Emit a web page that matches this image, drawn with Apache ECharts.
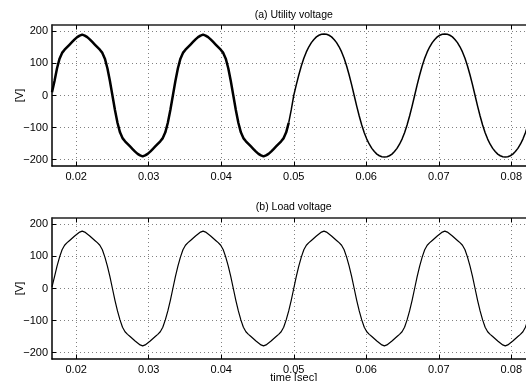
<!DOCTYPE html>
<html><head><meta charset="utf-8">
<script src="https://cdn.jsdelivr.net/npm/echarts@6/dist/echarts.min.js"></script>
<style>html,body{margin:0;padding:0;background:#fff}#c{width:526px;height:381px}</style>
</head><body><div id="c"></div>
<script>
// time [sec], sampled every 7.5 degrees of the 60 Hz period
const time = [
0.016667,0.017014,0.017361,0.017708,0.018056,0.018403,0.018750,0.019097,0.019444,0.019792,0.020139,0.020486,
0.020833,0.021181,0.021528,0.021875,0.022222,0.022569,0.022917,0.023264,0.023611,0.023958,0.024306,0.024653,
0.025000,0.025347,0.025694,0.026042,0.026389,0.026736,0.027083,0.027431,0.027778,0.028125,0.028472,0.028819,
0.029167,0.029514,0.029861,0.030208,0.030556,0.030903,0.031250,0.031597,0.031944,0.032292,0.032639,0.032986,
0.033333,0.033681,0.034028,0.034375,0.034722,0.035069,0.035417,0.035764,0.036111,0.036458,0.036806,0.037153,
0.037500,0.037847,0.038194,0.038542,0.038889,0.039236,0.039583,0.039931,0.040278,0.040625,0.040972,0.041319,
0.041667,0.042014,0.042361,0.042708,0.043056,0.043403,0.043750,0.044097,0.044444,0.044792,0.045139,0.045486,
0.045833,0.046181,0.046528,0.046875,0.047222,0.047569,0.047917,0.048264,0.048611,0.048958,0.049306,0.049653,
0.050000,0.050347,0.050694,0.051042,0.051389,0.051736,0.052083,0.052431,0.052778,0.053125,0.053472,0.053819,
0.054167,0.054514,0.054861,0.055208,0.055556,0.055903,0.056250,0.056597,0.056944,0.057292,0.057639,0.057986,
0.058333,0.058681,0.059028,0.059375,0.059722,0.060069,0.060417,0.060764,0.061111,0.061458,0.061806,0.062153,
0.062500,0.062847,0.063194,0.063542,0.063889,0.064236,0.064583,0.064931,0.065278,0.065625,0.065972,0.066319,
0.066667,0.067014,0.067361,0.067708,0.068056,0.068403,0.068750,0.069097,0.069444,0.069792,0.070139,0.070486,
0.070833,0.071181,0.071528,0.071875,0.072222,0.072569,0.072917,0.073264,0.073611,0.073958,0.074306,0.074653,
0.075000,0.075347,0.075694,0.076042,0.076389,0.076736,0.077083,0.077431,0.077778,0.078125,0.078472,0.078819,
0.079167,0.079514,0.079861,0.080208,0.080556,0.080903,0.081250,0.081597,0.081944,0.082292,0.082639,0.082986,
0.083333];

// (a) Utility voltage [V]
const utilityVoltage = [
10,45,85,115,133,143,151,159,167,175,182,187,190,187,182,175,167,159,151,143,133,115,85,45,
0,-45,-85,-115,-133,-143,-151,-159,-167,-175,-182,-187,-190,-187,-182,-175,-167,-159,-151,-143,-133,-115,-85,-45,
0,45,85,115,133,143,151,159,167,175,182,187,190,187,182,175,167,159,151,143,133,115,85,45,
0,-45,-85,-115,-133,-143,-151,-159,-167,-175,-182,-187,-190,-187,-182,-175,-167,-159,-151,-143,-133,-115,-85,-45,
0,33,64,92,116,136,152,165,175,183,188,191,192,191,188,183,175,165,152,136,116,92,64,33,
0,-33,-64,-92,-116,-136,-152,-165,-175,-183,-188,-191,-192,-191,-188,-183,-175,-165,-152,-136,-116,-92,-64,-33,
0,33,64,92,116,136,152,165,175,183,188,191,192,191,188,183,175,165,152,136,116,92,64,33,
0,-33,-64,-92,-116,-136,-152,-165,-175,-183,-188,-191,-192,-191,-188,-183,-175,-165,-152,-136,-116,-92,-64,-33,
0];

// (b) Load voltage [V]
const loadVoltage = [
5,37,70,98,121,135,143,150,157,164,170,176,179,176,170,164,157,150,143,135,121,98,70,37,
0,-37,-70,-98,-121,-135,-143,-150,-157,-164,-170,-176,-179,-176,-170,-164,-157,-150,-143,-135,-121,-98,-70,-37,
0,37,70,98,121,135,143,150,157,164,170,176,179,176,170,164,157,150,143,135,121,98,70,37,
0,-37,-70,-98,-121,-135,-143,-150,-157,-164,-170,-176,-179,-176,-170,-164,-157,-150,-143,-135,-121,-98,-70,-37,
0,37,70,98,121,135,143,150,157,164,170,176,179,176,170,164,157,150,143,135,121,98,70,37,
0,-37,-70,-98,-121,-135,-143,-150,-157,-164,-170,-176,-179,-176,-170,-164,-157,-150,-143,-135,-121,-98,-70,-37,
0,37,70,98,121,135,143,150,157,164,170,176,179,176,170,164,157,150,143,135,121,98,70,37,
0,-37,-70,-98,-121,-135,-143,-150,-157,-164,-170,-176,-179,-176,-170,-164,-157,-150,-143,-135,-121,-98,-70,-37,
0];

const xTicks = [0.02, 0.03, 0.04, 0.05, 0.06, 0.07, 0.08];
const yTicks = [-200, -100, 0, 100, 200];
const panelTitles = ['(a) Utility voltage', '(b) Load voltage'];
const xName = 'time [sec]';
const yName = '[V]';
const rippleEndIndex = 94; // switching ripple visible up to here

const FONT = '"Liberation Sans", Arial, Helvetica, sans-serif';
const chart = echarts.init(document.getElementById('c'));
const pts = (vals, a, b) => time.slice(a, b + 1).map((t, i) => [t, vals[a + i]]);
const X0 = 1 / 60, X1 = 5 / 60;

const grids = [
  { left: 52, top: 25, width: 483.5, height: 141, outerBoundsMode: 'none', containLabel: false },
  { left: 52, top: 218, width: 483.5, height: 141, outerBoundsMode: 'none', containLabel: false }
];
const lineCol = '#000';
function xAxes(gi) {
  return [{
    gridIndex: gi, type: 'value', min: X0, max: X1, position: 'bottom',
    axisLine: { show: true, onZero: false, lineStyle: { color: lineCol, width: 1.5 } },
    axisTick: { show: true, inside: true, length: 4, customValues: xTicks, lineStyle: { color: lineCol } },
    axisLabel: { show: true, customValues: xTicks, margin: 5, color: '#000', fontSize: 11, fontFamily: FONT,
      formatter: v => String(Math.round(v * 100) / 100) },
    splitLine: { show: true, lineStyle: { color: '#808080', type: [1, 3], width: 1 } }
  }, {
    gridIndex: gi, type: 'value', min: X0, max: X1, position: 'top',
    axisLine: { show: true, onZero: false, lineStyle: { color: '#222', width: 1.5 } },
    axisTick: { show: true, inside: true, length: 4, customValues: xTicks, lineStyle: { color: lineCol } },
    axisLabel: { show: false }, splitLine: { show: false }
  }];
}
function yAxis(gi) {
  return {
    gridIndex: gi, type: 'value', min: -220, max: 220, position: 'left',
    axisLine: { show: true, onZero: false, lineStyle: { color: lineCol, width: 1.5 } },
    axisTick: { show: true, inside: true, length: 4, customValues: yTicks, lineStyle: { color: lineCol } },
    axisLabel: { show: true, customValues: yTicks, margin: 4, color: '#000', fontSize: 11, fontFamily: FONT,
      formatter: v => String(v).replace('-', '\u2212') },
    splitLine: { show: true, lineStyle: { color: '#808080', type: [1, 3], width: 1 } }
  };
}
const txt = (text, x, y, size, rot) => ({
  type: 'text', x, y, rotation: rot || 0,
  style: { text, fill: '#000', font: size + 'px ' + FONT, textAlign: 'center', textVerticalAlign: 'middle' }
});

chart.setOption({
  animation: false,
  backgroundColor: '#fff',
  grid: grids,
  xAxis: [...xAxes(0), ...xAxes(1)],
  yAxis: [yAxis(0), yAxis(1)],
  graphic: [
    txt(panelTitles[0], 293.75, 15, 10.5),
    txt(panelTitles[1], 293.75, 207, 10.5),
    txt(xName, 293.75, 378, 11),
    txt(yName, 19.5, 95.5, 11, Math.PI / 2),
    txt(yName, 19.5, 288.5, 11, Math.PI / 2)
  ],
  series: [
    { type: 'line', xAxisIndex: 0, yAxisIndex: 0, data: pts(utilityVoltage, 0, rippleEndIndex),
      showSymbol: false, symbol: 'none', lineStyle: { color: '#000', width: 2.5 } },
    { type: 'line', xAxisIndex: 0, yAxisIndex: 0, data: pts(utilityVoltage, rippleEndIndex, time.length - 1),
      showSymbol: false, symbol: 'none', lineStyle: { color: '#000', width: 1.5 } },
    { type: 'line', xAxisIndex: 2, yAxisIndex: 1, data: pts(loadVoltage, 0, time.length - 1),
      showSymbol: false, symbol: 'none', lineStyle: { color: '#000', width: 1.2 } }
  ]
});
</script></body></html>
